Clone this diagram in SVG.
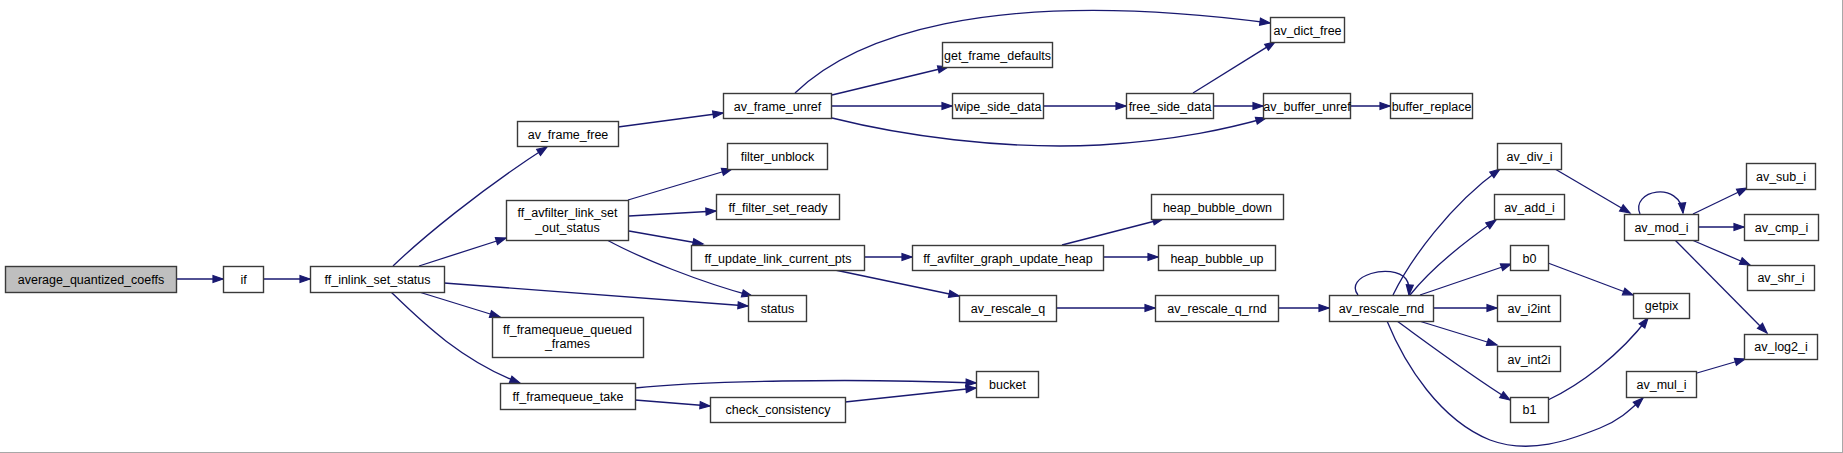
<svg xmlns="http://www.w3.org/2000/svg" width="1843" height="453" viewBox="0 0 1843 453">
<style>
.n rect{fill:#ffffff;stroke:#3a3a3a;stroke-width:1.4}
.root rect{fill:#bfbfbf}
.n text{font-family:"Liberation Sans",Arial,sans-serif;font-size:12.5px;fill:#000;text-anchor:middle}
.ln{fill:none;stroke:#191970;stroke-width:1.3}
</style>
<rect x="0" y="0" width="1843" height="453" fill="#ffffff"/>
<line x1="1842.5" y1="0" x2="1842.5" y2="453" stroke="#a8a8a8" stroke-width="1"/>
<line x1="0" y1="452.5" x2="1843" y2="452.5" stroke="#a8a8a8" stroke-width="1"/>
<g id="edges">
<g class="ln">
<path d="M176,279 L223,279"/>
<path d="M263,279 L310,279"/>
<path d="M393,266 C420,240 480,190 547,147"/>
<path d="M419,266 L506,238"/>
<path d="M444,283 L748,306"/>
<path d="M419,292 L500,317"/>
<path d="M391,292 C420,320 460,360 520,383"/>
<path d="M618,127 L723,113"/>
<path d="M795,93 C850,40 980,-15 1270,23"/>
<path d="M832,95 L948,67"/>
<path d="M831,106 L952,106"/>
<path d="M832,118 C900,135 1000,150 1100,145 C1180,140 1230,128 1266,118"/>
<path d="M1043,106 L1126,106"/>
<path d="M1193,93 L1275,42"/>
<path d="M1213,106 L1263,106"/>
<path d="M1350,106 L1390,106"/>
<path d="M628,200 L732,169"/>
<path d="M629,216 L716,211"/>
<path d="M629,231 L703,244"/>
<path d="M607,240 C640,258 700,282 752,296"/>
<path d="M864,257 L912,257"/>
<path d="M835,270 L959,296"/>
<path d="M1062,245 L1163,219"/>
<path d="M1103,257 L1158,257"/>
<path d="M1056,308 L1155,308"/>
<path d="M1278,308 L1329,308"/>
<path d="M1358,295 C1343,276 1392,262 1406,279 C1409,283 1409.5,289 1409,295"/>
<path d="M1393,295 C1410,260 1450,205 1500,169"/>
<path d="M1410,295 C1430,270 1460,245 1496,220"/>
<path d="M1420,295 L1511,264"/>
<path d="M1433,308 L1497,308"/>
<path d="M1419,321 L1497,345"/>
<path d="M1397,321 C1430,345 1470,375 1510,400"/>
<path d="M1387,321 C1405,365 1440,420 1490,440 C1530,455 1570,440 1600,428 C1620,420 1630,410 1643,398"/>
<path d="M1548,263 L1633,295"/>
<path d="M1548,400 C1580,385 1620,355 1648,318"/>
<path d="M1555,169 L1630,213"/>
<path d="M1640,214 C1630,190 1680,180 1683,213"/>
<path d="M1693,214 L1747,188"/>
<path d="M1698,227 L1744,227"/>
<path d="M1692,240 L1750,265"/>
<path d="M1675,240 L1767,333"/>
<path d="M1697,373 L1745,359"/>
<path d="M635,388 C700,381 850,378 976,383"/>
<path d="M635,400 L710,406"/>
<path d="M845,402 L976,388"/>
</g>
<g fill="#191970" stroke="#191970" stroke-width="1.2" stroke-linejoin="miter">
<polygon points="223,279 213,275.5 213,282.5"/>
<polygon points="310,279 300,275.5 300,282.5"/>
<polygon points="547,147 540.5,155.4 536.7,149.5"/>
<polygon points="506,238 497.5,244.4 495.4,237.7"/>
<polygon points="748,306 737.8,308.7 738.3,301.8"/>
<polygon points="500,317 489.4,317.4 491.5,310.7"/>
<polygon points="520,383 509.4,382.7 511.9,376.2"/>
<polygon points="723,113 713.6,117.8 712.6,110.9"/>
<polygon points="1270,23 1259.6,25.2 1260.5,18.2"/>
<polygon points="948,67 939.1,72.8 937.5,66"/>
<polygon points="952,106 942,102.5 942,109.5"/>
<polygon points="1266,118 1257.3,124 1255.4,117.3"/>
<polygon points="1126,106 1116,102.5 1116,109.5"/>
<polygon points="1275,42 1268.4,50.3 1264.7,44.3"/>
<polygon points="1263,106 1253,102.5 1253,109.5"/>
<polygon points="1390,106 1380,102.5 1380,109.5"/>
<polygon points="732,169 723.4,175.2 721.4,168.5"/>
<polygon points="716,211 706.2,215.1 705.8,208.1"/>
<polygon points="703,244 692.5,245.7 693.8,238.8"/>
<polygon points="752,296 741.4,296.8 743.3,290"/>
<polygon points="912,257 902,253.5 902,260.5"/>
<polygon points="959,296 948.5,297.4 949.9,290.5"/>
<polygon points="1163,219 1154.2,224.9 1152.5,218.1"/>
<polygon points="1158,257 1148,253.5 1148,260.5"/>
<polygon points="1155,308 1145,304.5 1145,311.5"/>
<polygon points="1329,308 1319,304.5 1319,311.5"/>
<polygon points="1409,295 1406.3,284.7 1413.3,285.3"/>
<polygon points="1500,169 1493.9,177.7 1489.8,172"/>
<polygon points="1496,220 1489.8,228.6 1485.8,222.8"/>
<polygon points="1511,264 1502.7,270.5 1500.4,263.9"/>
<polygon points="1497,308 1487,304.5 1487,311.5"/>
<polygon points="1497,345 1486.4,345.4 1488.5,338.7"/>
<polygon points="1510,400 1499.7,397.7 1503.4,391.7"/>
<polygon points="1643,398 1638,407.4 1633.3,402.2"/>
<polygon points="1633,295 1622.4,294.8 1624.9,288.2"/>
<polygon points="1648,318 1644.8,328.1 1639.2,323.9"/>
<polygon points="1630,213 1619.6,211 1623.2,204.9"/>
<polygon points="1683,213 1678.6,203.4 1685.6,202.7"/>
<polygon points="1747,188 1739.5,195.5 1736.5,189.2"/>
<polygon points="1744,227 1734,223.5 1734,230.5"/>
<polygon points="1750,265 1739.4,264.3 1742.2,257.8"/>
<polygon points="1767,333 1757.5,328.4 1762.5,323.4"/>
<polygon points="1745,359 1736.4,365.2 1734.4,358.4"/>
<polygon points="976,383 965.9,386.1 966.2,379.1"/>
<polygon points="710,406 699.8,408.7 700.3,401.7"/>
<polygon points="976,388 966.4,392.5 965.7,385.6"/>
</g>
</g>
<g id="n_avq" class="n root"><rect x="5.5" y="266.5" width="171" height="26"/><text x="91" y="284">average_quantized_coeffs</text></g>
<g id="n_if" class="n"><rect x="223.5" y="266.5" width="40" height="26"/><text x="243.5" y="284">if</text></g>
<g id="n_ff_inlink_set_status" class="n"><rect x="310.5" y="266.5" width="134" height="26"/><text x="377.5" y="284">ff_inlink_set_status</text></g>
<g id="n_av_frame_free" class="n"><rect x="517.5" y="121.5" width="101" height="25"/><text x="568" y="138.5">av_frame_free</text></g>
<g id="n_av_frame_unref" class="n"><rect x="723.5" y="93.5" width="108" height="25"/><text x="777.5" y="110.5">av_frame_unref</text></g>
<g id="n_get_frame_defaults" class="n"><rect x="942.5" y="42.5" width="110" height="25"/><text x="997.5" y="59.5">get_frame_defaults</text></g>
<g id="n_wipe_side_data" class="n"><rect x="952.5" y="93.5" width="91" height="25"/><text x="998" y="110.5">wipe_side_data</text></g>
<g id="n_av_dict_free" class="n"><rect x="1270.5" y="17.5" width="74" height="25"/><text x="1307.5" y="34.5">av_dict_free</text></g>
<g id="n_free_side_data" class="n"><rect x="1126.5" y="93.5" width="87" height="25"/><text x="1170" y="110.5">free_side_data</text></g>
<g id="n_av_buffer_unref" class="n"><rect x="1263.5" y="93.5" width="87" height="25"/><text x="1307" y="110.5">av_buffer_unref</text></g>
<g id="n_buffer_replace" class="n"><rect x="1390.5" y="93.5" width="82" height="25"/><text x="1431.5" y="110.5">buffer_replace</text></g>
<g id="n_ff_avfilter_link_set_out_status" class="n"><rect x="506.5" y="200.5" width="122" height="40"/><text x="567.5" y="216.5">ff_avfilter_link_set</text><text x="567.5" y="232">_out_status</text></g>
<g id="n_filter_unblock" class="n"><rect x="727.5" y="143.5" width="100" height="26"/><text x="777.5" y="160.5">filter_unblock</text></g>
<g id="n_ff_filter_set_ready" class="n"><rect x="716.5" y="194.5" width="123" height="25"/><text x="778" y="211.5">ff_filter_set_ready</text></g>
<g id="n_ff_update_link_current_pts" class="n"><rect x="691.5" y="245.5" width="173" height="25"/><text x="778" y="262.5">ff_update_link_current_pts</text></g>
<g id="n_status" class="n"><rect x="748.5" y="295.5" width="58" height="26"/><text x="777.5" y="312.5">status</text></g>
<g id="n_ff_framequeue_queued_frames" class="n"><rect x="492.5" y="317.5" width="151" height="40"/><text x="567.5" y="334">ff_framequeue_queued</text><text x="567.5" y="348">_frames</text></g>
<g id="n_ff_framequeue_take" class="n"><rect x="500.5" y="383.5" width="135" height="26"/><text x="568" y="400.5">ff_framequeue_take</text></g>
<g id="n_check_consistency" class="n"><rect x="710.5" y="397.5" width="135" height="25"/><text x="778" y="414">check_consistency</text></g>
<g id="n_bucket" class="n"><rect x="976.5" y="371.5" width="62" height="26"/><text x="1007.5" y="388.5">bucket</text></g>
<g id="n_ff_avfilter_graph_update_heap" class="n"><rect x="912.5" y="245.5" width="191" height="25"/><text x="1008" y="262.5">ff_avfilter_graph_update_heap</text></g>
<g id="n_heap_bubble_down" class="n"><rect x="1151.5" y="194.5" width="132" height="25"/><text x="1217.5" y="211.5">heap_bubble_down</text></g>
<g id="n_heap_bubble_up" class="n"><rect x="1158.5" y="245.5" width="117" height="25"/><text x="1217" y="262.5">heap_bubble_up</text></g>
<g id="n_av_rescale_q" class="n"><rect x="959.5" y="295.5" width="97" height="26"/><text x="1008" y="312.5">av_rescale_q</text></g>
<g id="n_av_rescale_q_rnd" class="n"><rect x="1155.5" y="295.5" width="123" height="26"/><text x="1217" y="312.5">av_rescale_q_rnd</text></g>
<g id="n_av_rescale_rnd" class="n"><rect x="1329.5" y="295.5" width="104" height="26"/><text x="1381.5" y="312.5">av_rescale_rnd</text></g>
<g id="n_av_div_i" class="n"><rect x="1497.5" y="143.5" width="64" height="26"/><text x="1529.5" y="160.5">av_div_i</text></g>
<g id="n_av_add_i" class="n"><rect x="1494.5" y="194.5" width="70" height="25"/><text x="1529.5" y="211.5">av_add_i</text></g>
<g id="n_b0" class="n"><rect x="1510.5" y="245.5" width="38" height="25"/><text x="1529.5" y="262.5">b0</text></g>
<g id="n_av_i2int" class="n"><rect x="1497.5" y="295.5" width="63" height="26"/><text x="1529" y="312.5">av_i2int</text></g>
<g id="n_av_int2i" class="n"><rect x="1497.5" y="346.5" width="63" height="25"/><text x="1529" y="363.5">av_int2i</text></g>
<g id="n_b1" class="n"><rect x="1510.5" y="397.5" width="38" height="25"/><text x="1529.5" y="414">b1</text></g>
<g id="n_getpix" class="n"><rect x="1633.5" y="293.5" width="56" height="25"/><text x="1661.5" y="310">getpix</text></g>
<g id="n_av_mul_i" class="n"><rect x="1626.5" y="371.5" width="70" height="26"/><text x="1661.5" y="388.5">av_mul_i</text></g>
<g id="n_av_mod_i" class="n"><rect x="1624.5" y="214.5" width="74" height="26"/><text x="1661.5" y="231.5">av_mod_i</text></g>
<g id="n_av_sub_i" class="n"><rect x="1746.5" y="163.5" width="69" height="26"/><text x="1781" y="180.5">av_sub_i</text></g>
<g id="n_av_cmp_i" class="n"><rect x="1744.5" y="214.5" width="74" height="26"/><text x="1781.5" y="231.5">av_cmp_i</text></g>
<g id="n_av_shr_i" class="n"><rect x="1747.5" y="265.5" width="67" height="25"/><text x="1781" y="282">av_shr_i</text></g>
<g id="n_av_log2_i" class="n"><rect x="1744.5" y="334.5" width="73" height="25"/><text x="1781" y="351">av_log2_i</text></g>
</svg>
